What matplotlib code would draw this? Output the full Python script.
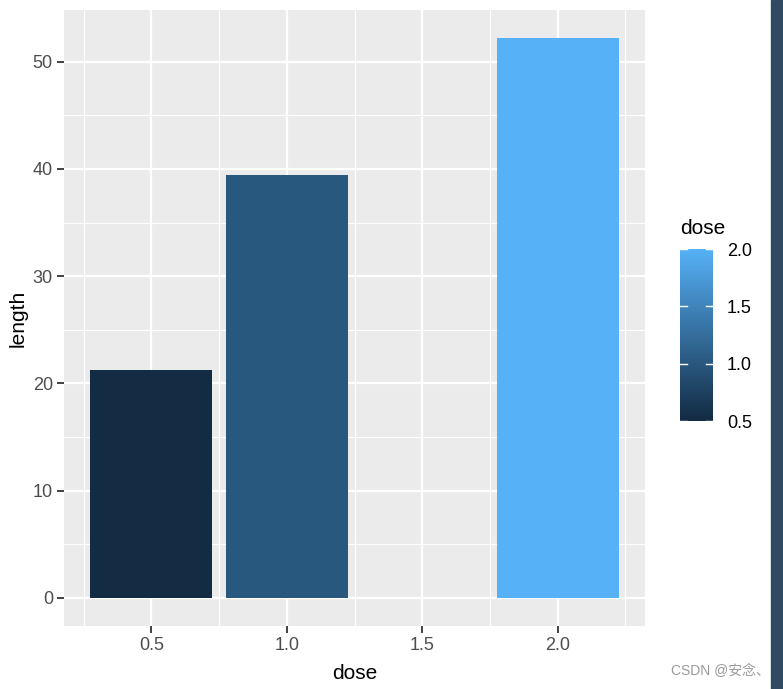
import numpy as np
import matplotlib.pyplot as plt
from matplotlib.colors import LinearSegmentedColormap, Normalize
from matplotlib.patches import Rectangle
from matplotlib.ticker import MultipleLocator

# data
dose = [0.5, 1.0, 2.0]
length = [21.21, 39.47, 52.20]

plt.rcParams['font.family'] = ['Liberation Sans', 'Noto Sans CJK SC', 'DejaVu Sans']

cmap = LinearSegmentedColormap.from_list('gg', ['#132B43', '#56B1F7'])
norm = Normalize(vmin=0.5, vmax=2.0)

W, H = 783, 689
fig = plt.figure(figsize=(W / 100, H / 100), dpi=100)
ax = fig.add_axes([64 / W, (H - 626) / H, (645 - 64) / W, (626 - 10) / H])
ax.set_facecolor('#EBEBEB')

ax.bar(dose, length, width=0.45, color=cmap(norm(np.array(dose))), zorder=3)

ax.set_xlim(0.1775, 2.3225)
ax.set_ylim(-2.61, 54.81)
ax.xaxis.set_major_locator(MultipleLocator(0.5))
ax.xaxis.set_minor_locator(MultipleLocator(0.25))
ax.yaxis.set_major_locator(MultipleLocator(10))
ax.yaxis.set_minor_locator(MultipleLocator(5))
ax.set_xticks([0.5, 1.0, 1.5, 2.0])
ax.set_xticklabels(['0.5', '1.0', '1.5', '2.0'])
ax.grid(which='major', color='white', linewidth=1.6, zorder=0)
ax.grid(which='minor', color='white', linewidth=0.8, zorder=0)
ax.set_axisbelow(True)
for s in ax.spines.values():
    s.set_visible(False)
ax.tick_params(which='major', length=5, width=1.3, color='#333333',
               labelsize=13, labelcolor='#4D4D4D', pad=3)
ax.tick_params(which='minor', length=0)
ax.set_xlabel('dose', fontsize=15, labelpad=7)
ax.set_ylabel('length', fontsize=15, labelpad=4)

# colour bar legend
cax = fig.add_axes([680 / W, (H - 421) / H, 33 / W, (421 - 249) / H])
grad = np.linspace(0.5, 2.0, 300).reshape(-1, 1)
cax.imshow(grad, aspect='auto', cmap=cmap, norm=norm, origin='lower',
           extent=[0, 1, 0.5, 2.0])
cax.set_xlim(0, 1)
cax.set_ylim(0.5, 2.0)
for s in cax.spines.values():
    s.set_visible(False)
cax.set_xticks([])
cax.yaxis.tick_right()
cax.set_yticks([0.5, 1.0, 1.5, 2.0])
cax.set_yticklabels(['0.5', '1.0', '1.5', '2.0'])
cax.tick_params(axis='y', length=0, labelsize=13, labelcolor='black', pad=10)
for t in [0.5, 1.0, 1.5, 2.0]:
    cax.plot([0, 0.2], [t, t], color='white', lw=1.0)
    cax.plot([0.8, 1], [t, t], color='white', lw=1.0)
fig.text(680 / W, 1 - 229 / H, 'dose', fontsize=15, va='center', ha='left')

# watermark and screenshot edge
fig.text(770 / W, 1 - 671 / H, 'CSDN @安念、', fontsize=10, color='#9A9A9A',
         ha='right', va='center')
fig.patches.append(Rectangle((771 / W, 0), 12 / W, 1, transform=fig.transFigure,
                             color='#2F4A62', zorder=0))

plt.savefig('out.png', dpi=100)
